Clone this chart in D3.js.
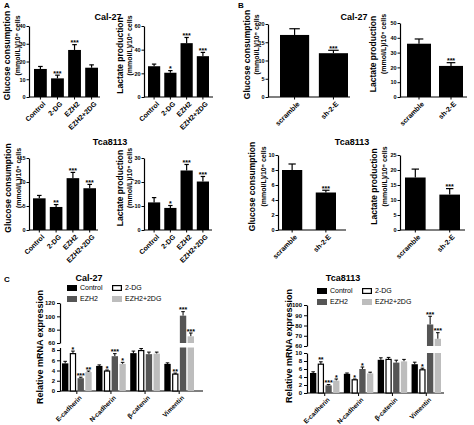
<!DOCTYPE html>
<html><head><meta charset="utf-8">
<script src="https://cdn.jsdelivr.net/npm/d3@7"></script>
<style>body{margin:0;background:#fff}svg{display:block;font-family:"Liberation Sans",Arial,sans-serif}</style>
</head><body>
<script>
// ---------- DATA ----------
const treatments = ["Control", "2-DG", "EZH2", "EZH2+2DG"];
const knockdown = ["scramble", "sh-2-E"];

const calGlucoseA = [15.8, 10.5, 26.5, 16.5];
const calGlucoseAErr = [1.4, 1.8, 3.0, 1.6];
const calGlucoseAStars = ["", "***", "***", ""];
const calLactateA = [26, 20.5, 45.5, 34.5];
const calLactateAErr = [1.8, 1.8, 4.8, 3.2];
const calLactateAStars = ["", "*", "***", "***"];

const tcaGlucoseA = [6.6, 4.8, 10.8, 8.7];
const tcaGlucoseAErr = [0.6, 0.5, 1.2, 0.8];
const tcaGlucoseAStars = ["", "**", "***", "***"];
const tcaLactateA = [11.5, 9.2, 24.8, 20.2];
const tcaLactateAErr = [2.0, 1.0, 2.5, 2.1];
const tcaLactateAStars = ["", "*", "***", "***"];

const calGlucoseB = [17, 12];
const calGlucoseBErr = [1.7, 0.8];
const calGlucoseBStars = ["", "***"];
const calLactateB = [36, 21];
const calLactateBErr = [3.2, 2.2];
const calLactateBStars = ["", "***"];

const tcaGlucoseB = [8.0, 5.0];
const tcaGlucoseBErr = [0.8, 0.3];
const tcaGlucoseBStars = ["", "***"];
const tcaLactateB = [17.5, 11.8];
const tcaLactateBErr = [2.8, 2.0];
const tcaLactateBStars = ["", "***"];

const genes = ["E-cadherin", "N-cadherin", "β-catenin", "Vimentin"];
const groupNames = ["Control", "2-DG", "EZH2", "EZH2+2DG"];

const calControl = [5.4, 4.9, 7.4, 5.3];
const calControlErr = [0.4, 0.2, 0.4, 0.2];
const calDG = [7.3, 3.9, 7.9, 3.3];
const calDGErr = [0.5, 0.2, 0.4, 0.2];
const calEZH2 = [2.5, 6.8, 7.2, 101];
const calEZH2Err = [0.2, 0.5, 0.4, 6];
const calEZH2DG = [3.7, 5.3, 7.3, 70];
const calEZH2DGErr = [0.2, 0.3, 0.3, 5];
const calStars = [["", "*", "***", "**"], ["", "*", "***", "*"], ["", "", "", ""], ["", "**", "***", "***"]];

const tcaControl = [5.0, 4.8, 8.3, 7.2];
const tcaControlErr = [0.3, 0.2, 0.5, 0.5];
const tcaDG = [7.2, 3.3, 8.4, 5.8];
const tcaDGErr = [0.6, 0.2, 0.5, 0.4];
const tcaEZH2 = [1.9, 6.0, 7.6, 81];
const tcaEZH2Err = [0.2, 0.5, 0.6, 8];
const tcaEZH2DG = [3.1, 4.9, 7.9, 67];
const tcaEZH2DGErr = [0.4, 0.3, 0.5, 6];
const tcaStars = [["", "**", "***", "*"], ["", "*", "*", ""], ["", "", "", ""], ["", "*", "***", "***"]];

const calTicksLow = [0, 2, 4, 6, 8];
const calTicksHigh = [60, 80, 100, 120];
const tcaTicksLow = [0, 2, 4, 6, 8, 10];
const tcaTicksHigh = [60, 70, 80, 90, 100];

// ---------- DRAW ----------
const svg = d3.select("body").append("svg").attr("width", 474).attr("height", 425);
const F = "'Liberation Sans', Arial, sans-serif";

function txt(x, y, s, size, weight, anchor) {
  return svg.append("text").attr("x", x).attr("y", y).text(s)
    .attr("font-size", size).attr("font-weight", weight || "bold")
    .attr("text-anchor", anchor || "middle").attr("font-family", F);
}

function yLabel(g, cx, cy, size, line) {
  g.append("text").attr("transform", `translate(${cx},${cy}) rotate(-90)`)
    .attr("text-anchor", "middle").attr("dy", "0.35em").attr("font-size", size).attr("font-weight", "bold")
    .attr("font-family", F).text(line);
}

function barPanel(c) {
  const g = svg.append("g");
  const x = d3.scaleBand().domain(c.cats).range(c.xRange).paddingInner(c.pad).paddingOuter(0);
  const y = d3.scaleLinear().domain(c.yDomain).range(c.yRange);
  const yAx = g.append("g").attr("transform", `translate(${c.axisX},0)`)
    .call(d3.axisLeft(y).tickValues(c.ticks).tickSize(2.5).tickSizeOuter(0).tickPadding(1));
  yAx.selectAll("text").attr("font-size", 5.5).attr("font-weight", "bold").attr("font-family", F);
  yAx.select(".domain").attr("stroke-width", 1.2);
  yAx.selectAll(".tick line").attr("stroke-width", 1);
  const xAx = g.append("g").attr("transform", `translate(0,${c.yRange[0]})`)
    .call(d3.axisBottom(x).tickSize(2.5).tickSizeOuter(0).tickFormat(""));
  xAx.select(".domain").remove();
  g.append("line").attr("x1", c.axisX).attr("x2", c.xEnd).attr("y1", c.yRange[0]).attr("y2", c.yRange[0])
    .attr("stroke", "#000").attr("stroke-width", 1.2);
  c.cats.forEach((k, i) => {
    const x0 = x(k), bw = x.bandwidth(), cx = x0 + bw / 2;
    const top = y(c.values[i]), et = y(c.values[i] + c.errs[i]);
    g.append("line").attr("x1", cx).attr("x2", cx).attr("y1", top).attr("y2", et).attr("stroke", "#000").attr("stroke-width", 1.2);
    g.append("line").attr("x1", cx - bw * 0.18).attr("x2", cx + bw * 0.18).attr("y1", et).attr("y2", et).attr("stroke", "#000").attr("stroke-width", 1.2);
    g.append("rect").attr("x", x0).attr("y", top).attr("width", bw).attr("height", y(0) - top).attr("fill", "#000");
    if (c.stars[i]) txt(cx, et + 0.5, c.stars[i], 7, "bold");
    g.append("text").attr("transform", `translate(${cx + 3},${c.yRange[0] + 5}) rotate(-45)`)
      .attr("text-anchor", "end").attr("dy", "0.5em").attr("font-size", 7).attr("font-weight", "bold")
      .attr("font-family", F).text(k);
  });
  const mid = (c.yRange[0] + c.yRange[1]) / 2;
  yLabel(g, c.lx1, mid - 6, 8.5, c.label1);
  yLabel(g, c.lx2, mid - 16, 7, "(mmol/L)/10\u2075 cells");
}

const gl = "Glucose consumption", la = "Lactate production";
// Row 1
barPanel({cats: treatments, values: calGlucoseA, errs: calGlucoseAErr, stars: calGlucoseAStars, xRange: [34, 98], pad: 0.25,
  axisX: 29, xEnd: 100, yDomain: [0, 40], yRange: [97, 26], ticks: [0, 10, 20, 30, 40], label1: gl, lx1: 7, lx2: 18});
barPanel({cats: treatments, values: calLactateA, errs: calLactateAErr, stars: calLactateAStars, xRange: [148, 209], pad: 0.25,
  axisX: 144, xEnd: 213, yDomain: [0, 60], yRange: [97, 26], ticks: [0, 20, 40, 60], label1: la, lx1: 120, lx2: 130});
barPanel({cats: knockdown, values: calGlucoseB, errs: calGlucoseBErr, stars: calGlucoseBStars, xRange: [280, 348], pad: 0.25,
  axisX: 268, xEnd: 350, yDomain: [0, 20], yRange: [97, 24], ticks: [0, 5, 10, 15, 20], label1: gl, lx1: 247, lx2: 257});
barPanel({cats: knockdown, values: calLactateB, errs: calLactateBErr, stars: calLactateBStars, xRange: [407, 463], pad: 0.25,
  axisX: 400, xEnd: 467, yDomain: [0, 50], yRange: [97, 23], ticks: [0, 10, 20, 30, 40, 50], label1: la, lx1: 373, lx2: 384});
// Row 2
barPanel({cats: treatments, values: tcaGlucoseA, errs: tcaGlucoseAErr, stars: tcaGlucoseAStars, xRange: [33, 96], pad: 0.25,
  axisX: 29, xEnd: 98, yDomain: [0, 15], yRange: [230, 158], ticks: [0, 5, 10, 15], label1: gl, lx1: 8, lx2: 19});
barPanel({cats: treatments, values: tcaLactateA, errs: tcaLactateAErr, stars: tcaLactateAStars, xRange: [148, 209], pad: 0.25,
  axisX: 144, xEnd: 212, yDomain: [0, 30], yRange: [230, 158], ticks: [0, 10, 20, 30], label1: la, lx1: 120, lx2: 130});
barPanel({cats: knockdown, values: tcaGlucoseB, errs: tcaGlucoseBErr, stars: tcaGlucoseBStars, xRange: [282, 336], pad: 0.4,
  axisX: 278, xEnd: 346, yDomain: [0, 10], yRange: [230, 155], ticks: [0, 2, 4, 6, 8, 10], label1: gl, lx1: 252, lx2: 264});
barPanel({cats: knockdown, values: tcaLactateB, errs: tcaLactateBErr, stars: tcaLactateBStars, xRange: [405, 460], pad: 0.4,
  axisX: 400, xEnd: 465, yDomain: [0, 25], yRange: [230, 155], ticks: [0, 5, 10, 15, 20, 25], label1: la, lx1: 374, lx2: 385});

// titles and panel letters
txt(4, 8, "A", 8, "bold", "start");
txt(238, 8, "B", 8, "bold", "start");
txt(4, 282, "C", 8, "bold", "start");
txt(108, 20, "Cal-27", 9, "bold");
txt(354, 20, "Cal-27", 9, "bold");
txt(110, 145, "Tca8113", 9, "bold");
txt(352, 145, "Tca8113", 9, "bold");

// ---------- Panel C (broken axis grouped bars) ----------
const fills = ["#000", "#fff", "#555", "#bdbdbd"];
function groupedPanel(c) {
  const g = svg.append("g");
  const x0 = d3.scaleBand().domain(genes).range(c.xRange).paddingInner(0.13);
  const x1 = d3.scaleBand().domain(groupNames).range([0, x0.bandwidth()]).paddingInner(0.18);
  const yl = d3.scaleLinear().domain(c.lowDomain).range(c.lowRange);
  const yh = d3.scaleLinear().domain(c.highDomain).range(c.highRange);
  const aL = g.append("g").attr("transform", `translate(${c.axisX},0)`)
    .call(d3.axisLeft(yl).tickValues(c.ticksLow).tickSize(3).tickSizeOuter(0).tickPadding(2));
  const aH = g.append("g").attr("transform", `translate(${c.axisX},0)`)
    .call(d3.axisLeft(yh).tickValues(c.ticksHigh).tickSize(3).tickSizeOuter(0).tickPadding(2));
  [aL, aH].forEach(a => {
    a.selectAll("text").attr("font-size", 6).attr("font-weight", "bold").attr("font-family", F);
    a.select(".domain").attr("stroke-width", 1.2);
  });
  g.append("line").attr("x1", c.axisX).attr("x2", c.xEnd).attr("y1", c.lowRange[0]).attr("y2", c.lowRange[0])
    .attr("stroke", "#000").attr("stroke-width", 1.2);
  genes.forEach((gene, gi) => {
    const gx = x0(gene);
    g.append("line").attr("x1", gx + x0.bandwidth() / 2).attr("x2", gx + x0.bandwidth() / 2)
      .attr("y1", c.lowRange[0]).attr("y2", c.lowRange[0] + 3).attr("stroke", "#000");
    g.append("text").attr("transform", `translate(${gx + x0.bandwidth() / 2 + 3},${c.lowRange[0] + 5}) rotate(-45)`)
      .attr("text-anchor", "end").attr("dy", "0.5em").attr("font-size", 6.5).attr("font-weight", "bold")
      .attr("font-family", F).text(gene);
    groupNames.forEach((gn, si) => {
      const v = c.vals[si][gi], e = c.errs[si][gi];
      const bx = gx + x1(gn), bw = x1.bandwidth(), cx = bx + bw / 2;
      const stroke = si === 1 ? "#000" : "none";
      let errTop;
      if (v <= c.lowDomain[1]) {
        const top = yl(v);
        errTop = yl(v + e);
        g.append("line").attr("x1", cx).attr("x2", cx).attr("y1", top).attr("y2", errTop).attr("stroke", "#000").attr("stroke-width", 1);
        g.append("line").attr("x1", cx - 1.8).attr("x2", cx + 1.8).attr("y1", errTop).attr("y2", errTop).attr("stroke", "#000").attr("stroke-width", 1);
        g.append("rect").attr("x", bx + (si === 1 ? 0.6 : 0)).attr("y", top).attr("width", bw - (si === 1 ? 1.2 : 0))
          .attr("height", yl(0) - top).attr("fill", fills[si]).attr("stroke", stroke).attr("stroke-width", 1.2);
      } else {
        const top = yh(v);
        errTop = yh(v + e);
        g.append("line").attr("x1", cx).attr("x2", cx).attr("y1", top).attr("y2", errTop).attr("stroke", "#000").attr("stroke-width", 1);
        g.append("line").attr("x1", cx - 1.8).attr("x2", cx + 1.8).attr("y1", errTop).attr("y2", errTop).attr("stroke", "#000").attr("stroke-width", 1);
        g.append("rect").attr("x", bx).attr("y", yl(c.lowDomain[1])).attr("width", bw)
          .attr("height", yl(0) - yl(c.lowDomain[1])).attr("fill", fills[si]);
        g.append("rect").attr("x", bx).attr("y", top).attr("width", bw)
          .attr("height", yh(c.highDomain[0]) - top).attr("fill", fills[si]);
      }
      const st = c.stars[gi][si];
      if (st) txt(cx, errTop + 0.5, st, 7, "bold");
    });
  });
  // legend
  groupNames.forEach((gn, i) => {
    const lx = c.legX[i % 2], ly = c.legY[Math.floor(i / 2)];
    g.append("rect").attr("x", lx + (i === 1 ? 0.6 : 0)).attr("y", ly - 3 + (i === 1 ? 0.6 : 0))
      .attr("width", 10 - (i === 1 ? 1.2 : 0)).attr("height", 6 - (i === 1 ? 1.2 : 0))
      .attr("fill", fills[i]).attr("stroke", i === 1 ? "#000" : "none").attr("stroke-width", 1.2);
    g.append("text").attr("x", lx + 13).attr("y", ly).attr("dy", "0.35em").attr("font-size", 7)
      .attr("font-family", F).text(gn);
  });
  txt(c.titleX, 281, c.title, 9, "bold");
  g.append("text").attr("transform", `translate(${c.labelX},${c.labelY}) rotate(-90)`)
    .attr("text-anchor", "middle").attr("dy", "0.35em").attr("font-size", 9).attr("font-weight", "bold")
    .attr("font-family", F).text("Relative mRNA expression");
}

groupedPanel({title: "Cal-27", titleX: 89, xRange: [62, 194], axisX: 60, xEnd: 203,
  lowDomain: [0, 8.5], lowRange: [391, 347.5], highDomain: [60, 120], highRange: [343, 303],
  ticksLow: calTicksLow, ticksHigh: calTicksHigh,
  vals: [calControl, calDG, calEZH2, calEZH2DG], errs: [calControlErr, calDGErr, calEZH2Err, calEZH2DGErr],
  stars: calStars, legX: [67, 112], legY: [288, 299], labelX: 40, labelY: 347});

groupedPanel({title: "Tca8113", titleX: 343, xRange: [310, 441], axisX: 307, xEnd: 444,
  lowDomain: [0, 10], lowRange: [393, 353], highDomain: [60, 100], highRange: [346, 305],
  ticksLow: tcaTicksLow, ticksHigh: tcaTicksHigh,
  vals: [tcaControl, tcaDG, tcaEZH2, tcaEZH2DG], errs: [tcaControlErr, tcaDGErr, tcaEZH2Err, tcaEZH2DGErr],
  stars: tcaStars, legX: [317, 362], legY: [291, 302], labelX: 289, labelY: 346});
</script>
</body></html>
